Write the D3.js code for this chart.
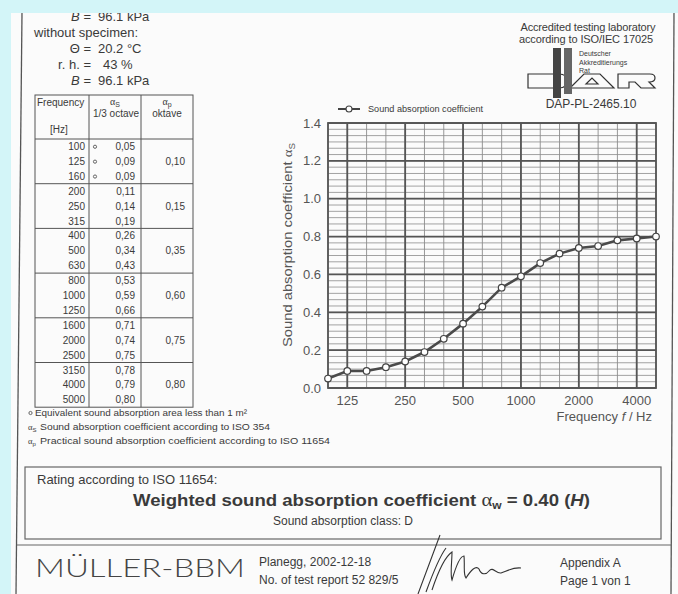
<!DOCTYPE html>
<html><head><meta charset="utf-8">
<script src="https://cdn.jsdelivr.net/npm/d3@7"></script>
<style>
html,body{margin:0;padding:0;background:#d3f5f8;}
svg{display:block;}
text{font-family:"Liberation Sans",Arial,sans-serif;fill:#3a3a3a;}
.gr{font-family:"Liberation Serif","DejaVu Serif",serif;}
</style></head>
<body>
<svg id="c" width="678" height="594"></svg>
<script>
// ---- data ----
const frequencies = [100,125,160,200,250,315,400,500,630,800,1000,1250,1600,2000,2500,3150,4000,5000];
const alphaS = [0.05,0.09,0.09,0.11,0.14,0.19,0.26,0.34,0.43,0.53,0.59,0.66,0.71,0.74,0.75,0.78,0.79,0.80];
const alphaSLabels = ["0,05","0,09","0,09","0,11","0,14","0,19","0,26","0,34","0,43","0,53","0,59","0,66","0,71","0,74","0,75","0,78","0,79","0,80"];
const lowAreaFlag = [true,true,true,false,false,false,false,false,false,false,false,false,false,false,false,false,false,false];
const octaveBands = [125,250,500,1000,2000,4000];
const alphaP = ["0,10","0,15","0,35","0,60","0,75","0,80"];
const xTickLabels = ["125","250","500","1000","2000","4000"];
const yTicks = [0.0,0.2,0.4,0.6,0.8,1.0,1.2,1.4];

const svg = d3.select("#c");
// page
svg.append("rect").attr("x",11).attr("y",13).attr("width",667).attr("height",581).attr("fill","#fbfbfb");
svg.append("line").attr("x1",22).attr("y1",13).attr("x2",16).attr("y2",594).attr("stroke","#555").attr("stroke-width",1.3);
svg.append("line").attr("x1",674).attr("y1",13).attr("x2",671).attr("y2",594).attr("stroke","#555").attr("stroke-width",1.3);
svg.append("line").attr("x1",17).attr("y1",545).attr("x2",672).attr("y2",545).attr("stroke","#666").attr("stroke-width",1.2);

// ---- top-left conditions ----
const cond = [
  {l:"B =", v:"96.1 kPa", y:21, it:true},
  {l:"Θ =", v:"20.2 °C", y:53},
  {l:"r. h. =", v:" 43 %", y:69},
  {l:"B =", v:"96.1 kPa", y:85, it:true}
];
cond.forEach(c=>{
  const t = svg.append("text").attr("x",91).attr("y",c.y).attr("text-anchor","end").attr("font-size",13);
  if(c.it){ t.append("tspan").attr("font-style","italic").text("B"); t.append("tspan").text(" =");}
  else t.text(c.l);
  svg.append("text").attr("x",c.v.startsWith(" ")?103:98).attr("y",c.y).attr("font-size",13).text(c.v.trim());
});
svg.append("text").attr("x",34).attr("y",37).attr("font-size",13).text("without specimen:");
svg.append("rect").attr("x",0).attr("y",0).attr("width",678).attr("height",13).attr("fill","#d3f5f8");

// ---- top-right accreditation ----
svg.append("text").attr("x",588).attr("y",31).attr("text-anchor","middle").attr("font-size",11).attr("textLength",135).text("Accredited testing laboratory");
svg.append("text").attr("x",586).attr("y",43).attr("text-anchor","middle").attr("font-size",11).attr("textLength",134).text("according to ISO/IEC 17025");
["Deutscher","Akkreditierungs","Rat"].forEach((s,i)=>
  svg.append("text").attr("x",579).attr("y",56+i*8.5).attr("font-size",7).text(s));
const dar = svg.append("g").attr("fill","none").attr("stroke","#333").attr("stroke-width",1.2);
dar.append("path").attr("d","M528 74 H559 Q567 74 567 81 Q567 88 559 88 H528 Z");
dar.append("path").attr("d","M570 88 L584 74 H600 L614 88 Z M586 84 L592 78 L598 84 Z");
dar.append("path").attr("d","M618 74 H650 Q655 74 655 78 Q655 82 649 82 L655 88 H641 L635 82 H629 V88 H618 Z");
svg.append("rect").attr("x",553).attr("y",48).attr("width",8).attr("height",50).attr("fill","#444");
svg.append("rect").attr("x",564).attr("y",48).attr("width",8).attr("height",46).attr("fill","#666");
svg.append("text").attr("x",591).attr("y",108).attr("text-anchor","middle").attr("font-size",12).text("DAP-PL-2465.10");

// ---- table ----
const tb = {l:35, c1:89, c2:141, r:193, top:95, hb:139, rowH:14.9};
const rowY = d3.scaleBand().domain(d3.range(frequencies.length)).range([tb.hb, tb.hb+tb.rowH*frequencies.length]);
const tbBottom = tb.hb + tb.rowH*frequencies.length;
const tg = svg.append("g");
tg.append("rect").attr("x",tb.l).attr("y",tb.top).attr("width",tb.r-tb.l).attr("height",tbBottom-tb.top)
  .attr("fill","none").attr("stroke","#555").attr("stroke-width",1);
[tb.c1,tb.c2].forEach(x=>tg.append("line").attr("x1",x).attr("x2",x).attr("y1",tb.top).attr("y2",tbBottom).attr("stroke","#555"));
d3.range(0,frequencies.length,3).forEach(i=>{
  tg.append("line").attr("x1",tb.l).attr("x2",tb.r).attr("y1",rowY(i)).attr("y2",rowY(i)).attr("stroke","#555");
});
tg.append("text").attr("x",37).attr("y",106).attr("font-size",10).text("Frequency");
tg.append("text").attr("x",50).attr("y",133).attr("font-size",10).text("[Hz]");
const h1 = tg.append("text").attr("x",115).attr("y",105).attr("text-anchor","middle").attr("font-size",10);
h1.append("tspan").attr("class","gr").text("α"); h1.append("tspan").attr("font-size",7).attr("dy",2).text("S");
tg.append("text").attr("x",116).attr("y",117).attr("text-anchor","middle").attr("font-size",10).text("1/3 octave");
const h2 = tg.append("text").attr("x",167).attr("y",105).attr("text-anchor","middle").attr("font-size",10);
h2.append("tspan").attr("class","gr").text("α"); h2.append("tspan").attr("font-size",7).attr("dy",2).text("p");
tg.append("text").attr("x",167).attr("y",117).attr("text-anchor","middle").attr("font-size",10).text("oktave");
frequencies.forEach((f,i)=>{
  const cy = rowY(i)+rowY.bandwidth()/2+3.6;
  tg.append("text").attr("x",85).attr("y",cy).attr("text-anchor","end").attr("font-size",10).text(f);
  tg.append("text").attr("x",135).attr("y",cy).attr("text-anchor","end").attr("font-size",10).text(alphaSLabels[i]);
  if(lowAreaFlag[i]) tg.append("circle").attr("cx",95).attr("cy",cy-3.3).attr("r",1.6).attr("fill","none").attr("stroke","#555").attr("stroke-width",0.9);
});
alphaP.forEach((v,g)=>{
  const i = g*3+1;
  tg.append("text").attr("x",185).attr("y",rowY(i)+rowY.bandwidth()/2+3.6).attr("text-anchor","end").attr("font-size",10).text(v);
});

// footnotes
svg.append("circle").attr("cx",30.5).attr("cy",413).attr("r",1.6).attr("fill","none").attr("stroke","#555").attr("stroke-width",0.9);
svg.append("text").attr("x",35).attr("y",416).attr("font-size",9.2).attr("textLength",212).attr("lengthAdjust","spacingAndGlyphs")
  .text("Equivalent sound absorption area less than 1 m²");
const fn2 = svg.append("text").attr("x",28).attr("y",430).attr("font-size",8.6);
fn2.append("tspan").attr("class","gr").text("α"); fn2.append("tspan").attr("font-size",6).attr("dy",1.5).text("S");
svg.append("text").attr("x",40).attr("y",430).attr("font-size",8.6).attr("textLength",230).attr("lengthAdjust","spacingAndGlyphs")
  .text("Sound absorption coefficient according to ISO 354");
const fn3 = svg.append("text").attr("x",28).attr("y",444).attr("font-size",8.6);
fn3.append("tspan").attr("class","gr").text("α"); fn3.append("tspan").attr("font-size",6).attr("dy",1.5).text("p");
svg.append("text").attr("x",40).attr("y",444).attr("font-size",8.6).attr("textLength",290).attr("lengthAdjust","spacingAndGlyphs")
  .text("Practical sound absorption coefficient according to ISO 11654");

// ---- chart ----
const P = {l:328, r:656, t:123, b:388};
const x = d3.scalePoint().domain(frequencies).range([P.l,P.r]);
const y = d3.scaleLinear().domain([0,1.4]).range([P.b,P.t]);
const g = svg.append("g");
const minorY = d3.range(0,1.4001,0.2/6);
g.selectAll(".hm").data(minorY).join("line").attr("x1",P.l).attr("x2",P.r)
  .attr("y1",d=>y(d)).attr("y2",d=>y(d)).attr("stroke","#8c8c8c").attr("stroke-width",0.8);
g.selectAll(".vm").data(frequencies).join("line").attr("x1",d=>x(d)).attr("x2",d=>x(d))
  .attr("y1",P.t).attr("y2",P.b).attr("stroke","#8c8c8c").attr("stroke-width",0.9);
g.selectAll(".hM").data(yTicks).join("line").attr("x1",P.l).attr("x2",P.r)
  .attr("y1",d=>y(d)).attr("y2",d=>y(d)).attr("stroke","#555").attr("stroke-width",1.7);
g.selectAll(".vM").data(octaveBands).join("line").attr("x1",d=>x(d)).attr("x2",d=>x(d))
  .attr("y1",P.t).attr("y2",P.b).attr("stroke","#555").attr("stroke-width",1.8);
g.append("rect").attr("x",P.l).attr("y",P.t).attr("width",P.r-P.l).attr("height",P.b-P.t)
  .attr("fill","none").attr("stroke","#555").attr("stroke-width",1.8);
g.selectAll(".yl").data(yTicks).join("text").attr("x",321).attr("y",d=>y(d)+4.5)
  .attr("text-anchor","end").attr("font-size",13).style("fill","#555").text(d=>d.toFixed(1));
g.selectAll(".xl").data(octaveBands).join("text").attr("x",d=>x(d)).attr("y",405)
  .attr("text-anchor","middle").attr("font-size",13).style("fill","#555").text((d,i)=>xTickLabels[i]);
const xt = g.append("text").attr("x",652).attr("y",421).attr("text-anchor","end").attr("font-size",13).style("fill","#555");
xt.append("tspan").text("Frequency "); xt.append("tspan").attr("font-style","italic").text("f"); xt.append("tspan").text(" / Hz");
const yt = g.append("text").attr("transform","translate(292,245) rotate(-90)").attr("text-anchor","middle").attr("font-size",13.5)
  .attr("textLength",204).attr("lengthAdjust","spacingAndGlyphs").style("fill","#555");
yt.append("tspan").text("Sound absorption coefficient ");
yt.append("tspan").attr("class","gr").style("fill","#555").text("α");
yt.append("tspan").attr("font-size",9).attr("dy",3).text("S");
// data line
const pts = frequencies.map((f,i)=>[f,alphaS[i]]);
g.append("path").datum(pts).attr("fill","none").attr("stroke","#4a4a4a").attr("stroke-width",2.6)
  .attr("d",d3.line().x(d=>x(d[0])).y(d=>y(d[1])));
g.selectAll(".pt").data(pts).join("circle").attr("cx",d=>x(d[0])).attr("cy",d=>y(d[1])).attr("r",3.3)
  .attr("fill","#fff").attr("stroke","#444").attr("stroke-width",1.2);
// legend
g.append("line").attr("x1",338).attr("x2",360).attr("y1",109).attr("y2",109).attr("stroke","#444").attr("stroke-width",2);
g.append("circle").attr("cx",349).attr("cy",109).attr("r",3).attr("fill","#fff").attr("stroke","#444").attr("stroke-width",1.1);
g.append("text").attr("x",368).attr("y",112).attr("font-size",8.3).attr("textLength",115).attr("lengthAdjust","spacingAndGlyphs").text("Sound absorption coefficient");

// ---- rating box ----
svg.append("rect").attr("x",25).attr("y",467).attr("width",636).attr("height",72).attr("fill","none").attr("stroke","#666").attr("stroke-width",1.2);
svg.append("text").attr("x",37).attr("y",484).attr("font-size",13).text("Rating according to ISO 11654:");
const w = svg.append("text").attr("x",133).attr("y",506).attr("font-size",17).attr("font-weight","bold").attr("textLength",457).attr("lengthAdjust","spacingAndGlyphs");
w.append("tspan").text("Weighted sound absorption coefficient ");
w.append("tspan").attr("class","gr").attr("font-weight","normal").attr("font-size",19).text("α");
w.append("tspan").attr("font-size",11).attr("dy",3).text("w");
w.append("tspan").attr("dy",-3).text(" = 0.40 (");
w.append("tspan").attr("font-style","italic").text("H");
w.append("tspan").text(")");
svg.append("text").attr("x",343).attr("y",525).attr("text-anchor","middle").attr("font-size",12).text("Sound absorption class: D");

// ---- footer ----
svg.append("text").attr("x",35).attr("y",577).attr("font-size",26).attr("textLength",210).attr("lengthAdjust","spacingAndGlyphs")
  .style("font-family","Lato,'Liberation Sans',sans-serif").attr("font-weight",300).style("fill","#444").text("MÜLLER-BBM");
svg.append("text").attr("x",259).attr("y",566).attr("font-size",12).text("Planegg, 2002-12-18");
svg.append("text").attr("x",259).attr("y",584).attr("font-size",12).text("No. of test report 52 829/5");
svg.append("text").attr("x",560).attr("y",567).attr("font-size",12).text("Appendix A");
svg.append("text").attr("x",560).attr("y",585).attr("font-size",12).text("Page 1 von 1");
svg.append("path").attr("fill","none").attr("stroke","#333").attr("stroke-width",1.1)
  .attr("d","M418 594 L440 535 M426 592 C434 570 440 556 446 548 M432 590 C440 566 446 556 452 552 C452 562 450 574 452 580 C456 566 460 556 464 556 C465 566 463 574 466 578 C471 570 476 565 479 569 C481 575 486 575 489 571 C493 566 496 574 501 573 C507 571 513 567 521 568");
</script>
</body></html>
